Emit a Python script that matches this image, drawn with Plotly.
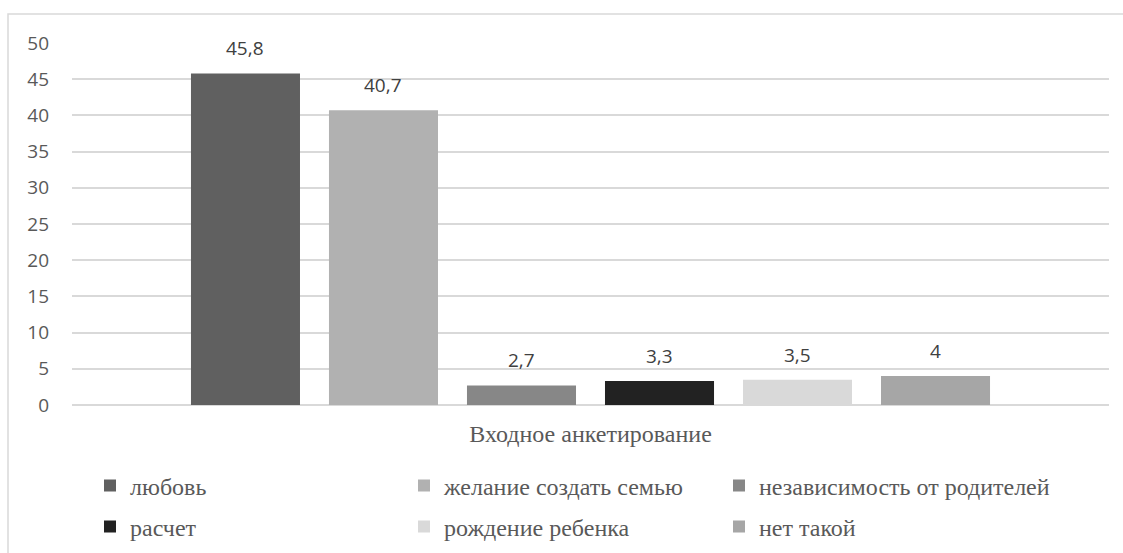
import plotly.graph_objects as go

category = "Входное анкетирование"
series_names = ["любовь", "желание создать семью", "независимость от родителей",
                "расчет", "рождение ребенка", "нет такой"]
values = [45.8, 40.7, 2.7, 3.3, 3.5, 4]
colors = ["#606060", "#b1b1b1", "#878787", "#222222", "#d9d9d9", "#a6a6a6"]
y_ticks = [0, 5, 10, 15, 20, 25, 30, 35, 40, 45, 50]

W, H = 1123, 553
L, R, T, B = 72, 14, 43, 148
PW, PH = W - L - R, H - T - B
bargap = 0.2015
slot = PW * (1 - bargap) / len(values)


def px2py(ypx):
    return (T + PH - ypx) / PH


def px2px(xpx):
    return (xpx - L) / PW


# legend grid (pixel positions of each item's origin)
legend_cols_px = [90, 404, 719]
legend_rows_px = [486, 527]

fig = go.Figure()
legend_layouts = {}
for i, (n, v, c) in enumerate(zip(series_names, values, colors)):
    lname = "legend" if i == 0 else f"legend{i + 1}"
    fig.add_trace(go.Bar(
        x=[category], y=[v], name=n, marker_color=c, marker_line_width=0,
        legend=lname,
    ))
    fig.add_annotation(
        x=category, y=v, xref="x", yref="y",
        text=str(v).replace(".", ","), showarrow=False,
        xshift=(i - (len(values) - 1) / 2) * slot, yshift=25,
        font=dict(family="Open Sans", size=19, color="#404040"),
    )
    legend_layouts[lname] = dict(
        x=px2px(legend_cols_px[i % 3]), y=px2py(legend_rows_px[i // 3]),
        xanchor="left", yanchor="middle", orientation="h",
        font=dict(family="Liberation Serif", size=24, color="#595959"),
        bgcolor="rgba(0,0,0,0)", borderwidth=0, itemclick=False,
    )

fig.add_shape(type="rect", xref="paper", yref="paper",
              x0=px2px(8), x1=px2px(1135), y0=px2py(570), y1=px2py(14),
              line=dict(color="#d9d9d9", width=1.5), fillcolor="rgba(0,0,0,0)",
              layer="below")

fig.update_layout(
    width=W, height=H,
    margin=dict(l=L, r=R, t=T, b=B, pad=0, autoexpand=False),
    paper_bgcolor="white", plot_bgcolor="white",
    barmode="group", bargap=bargap, bargroupgap=0.21,
    showlegend=True,
    xaxis=dict(
        showgrid=False, showline=False, ticks="", automargin=False,
        tickfont=dict(family="Liberation Serif", size=24, color="#595959"),
        ticklabelstandoff=12,
    ),
    yaxis=dict(
        range=[0, 50], tickvals=y_ticks, showgrid=True, gridcolor="#d9d9d9",
        gridwidth=1.5, zeroline=True, zerolinecolor="#d9d9d9", zerolinewidth=1.5,
        showline=False, ticks="", automargin=False,
        tickfont=dict(family="Open Sans", size=19, color="#595959"),
        ticklabelstandoff=22,
    ),
    **legend_layouts,
)

fig.write_html("out.html",
               config={"displayModeBar": False},
               post_script="document.body.style.margin='0';document.body.style.overflow='hidden';")
